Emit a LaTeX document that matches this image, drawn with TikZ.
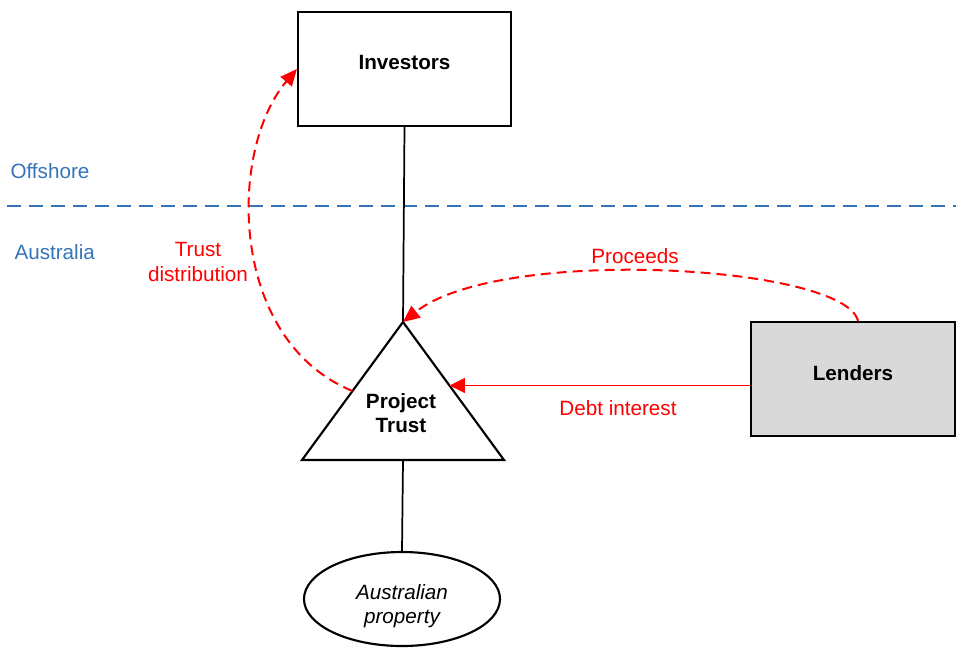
\documentclass[tikz,border=0pt]{standalone}
\usepackage{fontspec}
\setmainfont{Liberation Sans}
\usetikzlibrary{arrows.meta,shapes.geometric,calc}

\definecolor{zoneblue}{RGB}{52,116,186}
\definecolor{cashred}{RGB}{255,0,0}
\definecolor{lendgray}{RGB}{217,217,217}
\newcommand{\diagfont}{\fontsize{15.5}{18.5}\selectfont}

\tikzset{every picture/.style={line width=0.75pt}}
\tikzset{
	party/.style={draw, line width=1.6pt, minimum width=159.75pt, minimum height=85.5pt, font=\diagfont\bfseries},
	link/.style={draw, line width=1.3pt},
	cashflow/.style={draw=cashred, line width=1.5pt, dash pattern=on 7.5pt off 4.5pt, -{Triangle[length=12.5pt,width=11pt]}},
	debtflow/.style={draw=cashred, line width=1.3pt, -{Triangle[length=11.5pt,width=11pt]}},
	cashtext/.style={text=cashred, font=\diagfont, inner sep=0.75pt, align=center},
	zonetext/.style={text=zoneblue, font=\diagfont, inner sep=0.75pt, anchor=west}
}

\begin{document}
\begin{tikzpicture}[x=0.75pt,y=0.75pt,yscale=-1,xscale=1]
	\useasboundingbox (0,0) rectangle (956,647);

	%Straight Lines: border offshore / Australia
	\draw [zoneblue, line width=1.6pt, dash pattern=on 10.5pt off 6pt] (7,206) -- (956,206) ;

	% Text Node
	\node [zonetext] (offshore) at (9,171) {Offshore};
	% Text Node
	\node [zonetext] (australia) at (13,252) {Australia};

	%Shape: Rectangle
	\node [party, text depth=10.5pt] (inv) at (404.5,69) {Investors};
	%Shape: Rectangle
	\node [party, fill=lendgray, minimum width=153pt, text depth=9pt] (lend) at (853,379) {Lenders};
	%Shape: Ellipse
	\node [ellipse, draw, line width=1.6pt, minimum width=147pt, minimum height=70.5pt] (prop) at (402,599) {};
	% Text Node
	\node [align=center, font=\diagfont\itshape, inner sep=0.75pt] (proptext) at ($(prop.center)+(0,7)$) {Australian\\property};

	%Shape: Triangle
	\coordinate (apex) at (403,322);
	\coordinate (bl) at (302,460);
	\coordinate (br) at (504,460);
	\coordinate (base) at (403,460);
	\draw [line width=1.6pt, line join=miter] (apex) -- (br) -- (bl) -- cycle ;
	% Text Node
	\node [align=center, font=\diagfont\bfseries, inner sep=0.75pt] (trust) at (401,413) {Project\\Trust};

	%Straight Lines
	\draw [link] (inv.south) -- (apex) ;
	\draw [link] (base) -- (prop.north) ;

	%Curve Lines: trust distribution
	\draw [cashflow] ($(apex)!0.5!(bl)$) .. controls (228,340) and (228,150) .. (inv.west) ;
	%Curve Lines: proceeds
	\draw [cashflow] ([xshift=3.75pt]lend.north) .. controls (845,265) and (500,245) .. (apex) ;
	%Straight Lines: debt interest
	\coordinate (debtin) at ($(apex)!0.46!(br)$);
	\draw [debtflow] (lend.west |- debtin) -- (debtin) ;

	% Text Node
	\node [cashtext] (distlabel) at (198,262) {Trust\\distribution};
	% Text Node
	\node [cashtext] (proclabel) at (635,256) {Proceeds};
	% Text Node
	\node [cashtext] (debtlabel) at (618,408) {Debt interest};

\end{tikzpicture}
\end{document}
